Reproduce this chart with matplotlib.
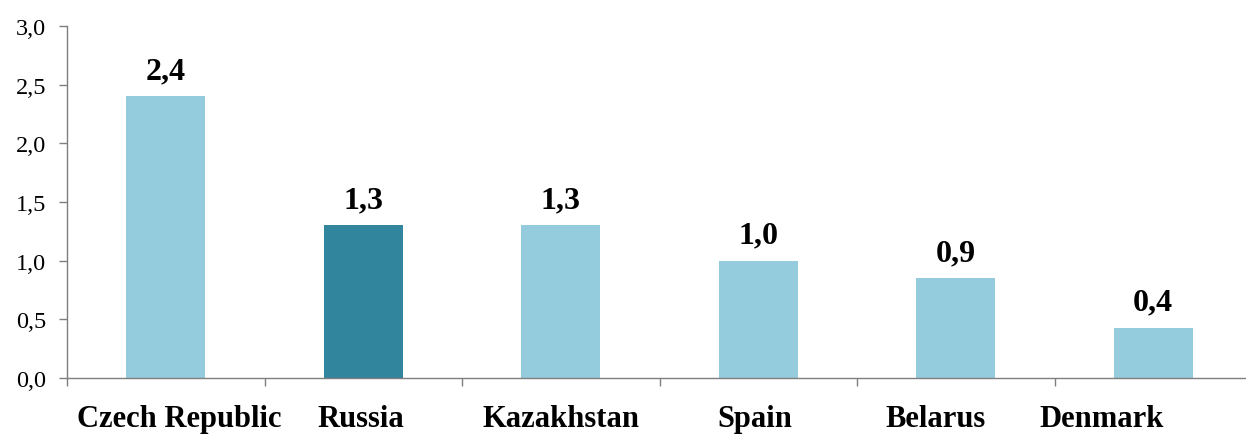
import numpy as np
import matplotlib
matplotlib.use("Agg")
import matplotlib.pyplot as plt
from matplotlib.transforms import blended_transform_factory

# ---------------- DATA ---------------- #

countries = ["Czech Republic", "Russia", "Kazakhstan", "Spain", "Belarus", "Denmark"]
values = [2.40, 1.30, 1.30, 1.00, 0.85, 0.43]
value_labels = ["2,4", "1,3", "1,3", "1,0", "0,9", "0,4"]
highlight = "Russia"

# ---------------- STYLE ---------------- #

plt.rcParams['font.family'] = ['Liberation Serif', 'DejaVu Serif']
light = "#95CCDD"
dark = "#31859C"
spine_grey = "#7f7f7f"
# horizontal shift of the category names (in category units)
name_shift = [0.07, -0.01, 0.0, -0.015, -0.10, -0.26]

fig = plt.figure(figsize=(12.46, 4.35), dpi=100)
ax = fig.add_axes([67 / 1246, 56 / 435, 1185 / 1246, 352 / 435])

x = np.arange(len(countries))
colors = [dark if c == highlight else light for c in countries]
bars = ax.bar(x, values, width=0.4, color=colors)

# value labels above bars
for xi, v, lab in zip(x, values, value_labels):
    ax.annotate(lab, (xi, v), xytext=(0, 8), textcoords="offset points",
                ha="center", va="bottom", fontsize=23, fontweight="bold")

ax.set_xlim(-0.5, len(countries) - 0.5)
ax.set_ylim(0, 3.0)
ax.set_yticks(np.arange(0, 3.01, 0.5))
ax.set_yticklabels([f"{t:.1f}".replace(".", ",") for t in np.arange(0, 3.01, 0.5)],
                   fontsize=17.5)

# ticks between categories
ax.set_xticks(np.arange(-0.5, len(countries) - 0.5, 1.0))
ax.set_xticklabels([])
ax.tick_params(axis="x", direction="out", length=6, color=spine_grey, width=1)
ax.tick_params(axis="y", direction="out", length=6, color=spine_grey, width=1, pad=9)

# category names
trans = blended_transform_factory(ax.transData, ax.transAxes)
for xi, name, dx in zip(x, countries, name_shift):
    ax.text(xi + dx, -0.075, name, transform=trans, ha="center", va="top",
            fontsize=22, fontweight="bold")

for side in ["top", "right"]:
    ax.spines[side].set_visible(False)
for side in ["left", "bottom"]:
    ax.spines[side].set_color(spine_grey)
    ax.spines[side].set_linewidth(1)

fig.savefig("out.png", dpi=100)
